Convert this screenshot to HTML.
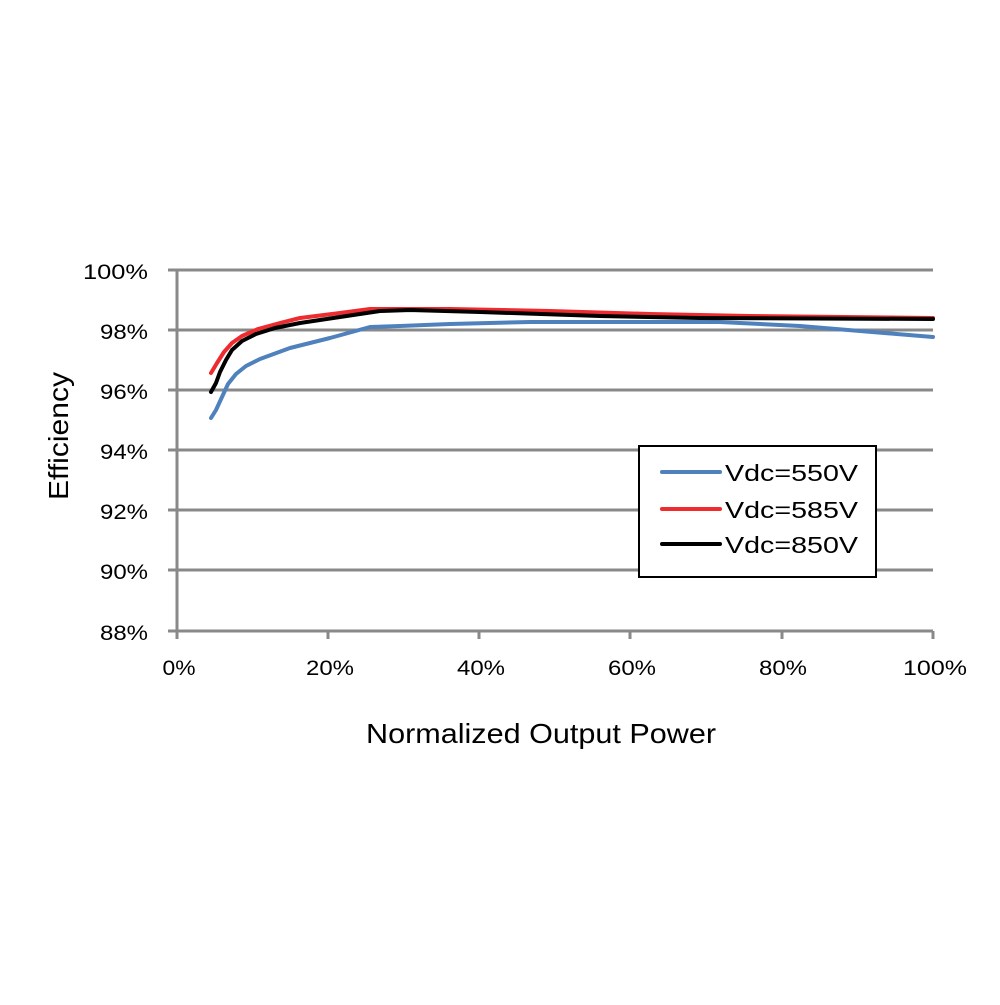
<!DOCTYPE html>
<html><head><meta charset="utf-8"><style>html,body{margin:0;padding:0;background:#fff}</style></head>
<body>
<svg width="1000" height="1000" viewBox="0 0 1000 1000" xmlns="http://www.w3.org/2000/svg" font-family="Liberation Sans, sans-serif">
<rect width="1000" height="1000" fill="#fff"/>
<g stroke="#898989" stroke-width="3" fill="none">
<line x1="168" y1="270" x2="933" y2="270"/>
<line x1="168" y1="330" x2="933" y2="330"/>
<line x1="168" y1="390" x2="933" y2="390"/>
<line x1="168" y1="450" x2="933" y2="450"/>
<line x1="168" y1="510" x2="933" y2="510"/>
<line x1="168" y1="570" x2="933" y2="570"/>
<line x1="168" y1="631" x2="933" y2="631"/>
<line x1="177" y1="270" x2="177" y2="639"/>
<line x1="328" y1="631" x2="328" y2="639"/>
<line x1="479" y1="631" x2="479" y2="639"/>
<line x1="630" y1="631" x2="630" y2="639"/>
<line x1="782" y1="631" x2="782" y2="639"/>
<line x1="933" y1="631" x2="933" y2="639"/>
</g>
<g font-size="21" fill="#000" text-anchor="end">
<text x="148" y="279" textLength="65" lengthAdjust="spacingAndGlyphs">100%</text>
<text x="148" y="339" textLength="48" lengthAdjust="spacingAndGlyphs">98%</text>
<text x="148" y="399" textLength="48" lengthAdjust="spacingAndGlyphs">96%</text>
<text x="148" y="459" textLength="48" lengthAdjust="spacingAndGlyphs">94%</text>
<text x="148" y="519" textLength="48" lengthAdjust="spacingAndGlyphs">92%</text>
<text x="148" y="579" textLength="48" lengthAdjust="spacingAndGlyphs">90%</text>
<text x="148" y="640" textLength="48" lengthAdjust="spacingAndGlyphs">88%</text>
</g>
<g font-size="21" fill="#000" text-anchor="middle">
<text x="179" y="675" textLength="33" lengthAdjust="spacingAndGlyphs">0%</text>
<text x="330" y="675" textLength="48" lengthAdjust="spacingAndGlyphs">20%</text>
<text x="481" y="675" textLength="48" lengthAdjust="spacingAndGlyphs">40%</text>
<text x="632" y="675" textLength="48" lengthAdjust="spacingAndGlyphs">60%</text>
<text x="783" y="675" textLength="48" lengthAdjust="spacingAndGlyphs">80%</text>
<text x="935" y="675" textLength="64" lengthAdjust="spacingAndGlyphs">100%</text>
</g>
<text x="541" y="743" font-size="28" text-anchor="middle" textLength="350" lengthAdjust="spacingAndGlyphs">Normalized Output Power</text>
<text transform="translate(68,436) rotate(-90)" font-size="28" text-anchor="middle" textLength="128" lengthAdjust="spacingAndGlyphs">Efficiency</text>
<g fill="none" stroke-width="4" stroke-linejoin="round" stroke-linecap="round">
<polyline stroke="#4f81bd" points="211,418 216,410 222,397 228,384 236,374 246,366 260,359 290,348 330,338 370,327 400,326 450,324 530,322 720,322 800,326 860,331 933,337"/>
<polyline stroke="#ee2b2f" points="211,373 217,363 224,352 232,343 242,336 258,329 280,323 300,318 340,313 370,309 400,309 450,309 550,311 650,314 750,316 933,318"/>
<polyline stroke="#000" points="211,392 216,383 220,372 226,360 232,350 242,341 256,334 275,328 300,323 340,317 380,311 410,310 480,312 600,316 700,318 933,319"/>
</g>
<rect x="639" y="446" width="237" height="131" fill="#fff" stroke="#000" stroke-width="2"/>
<g stroke-width="4" stroke-linecap="round">
<line x1="662" y1="472" x2="720" y2="472" stroke="#4f81bd"/>
<line x1="662" y1="509" x2="720" y2="509" stroke="#ee2b2f"/>
<line x1="662" y1="544" x2="720" y2="544" stroke="#000"/>
</g>
<g font-size="23" fill="#000">
<text x="725" y="481" textLength="133" lengthAdjust="spacingAndGlyphs">Vdc=550V</text>
<text x="725" y="518" textLength="133" lengthAdjust="spacingAndGlyphs">Vdc=585V</text>
<text x="725" y="553" textLength="133" lengthAdjust="spacingAndGlyphs">Vdc=850V</text>
</g>
</svg>
</body></html>
